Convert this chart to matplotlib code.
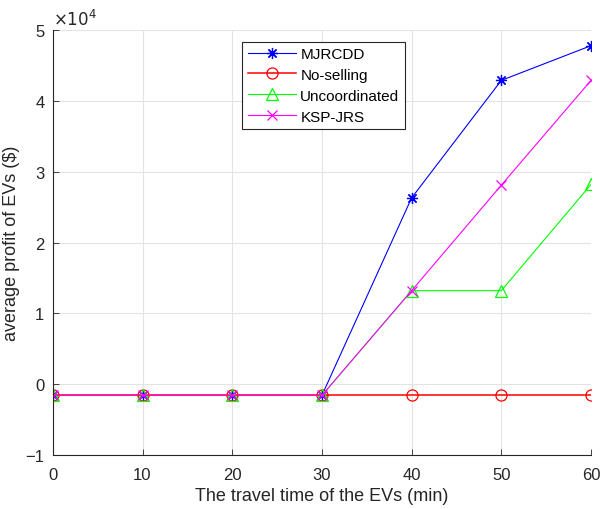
import matplotlib
matplotlib.use("Agg")
import matplotlib.pyplot as plt

plt.rcParams["font.family"] = ["Liberation Sans", "DejaVu Sans"]

travel_time = [0, 10, 20, 30, 40, 50, 60]
mjrcdd = [-0.16, -0.16, -0.16, -0.16, 2.63, 4.29, 4.78]
no_selling = [-0.16, -0.16, -0.16, -0.16, -0.16, -0.16, -0.16]
uncoordinated = [-0.16, -0.16, -0.16, -0.16, 1.32, 1.32, 2.82]
ksp_jrs = [-0.16, -0.16, -0.16, -0.16, 1.32, 2.81, 4.29]

fig = plt.figure(figsize=(6.0, 5.1), dpi=100)
ax = fig.add_axes([0.088, 0.106, 0.897, 0.833])

ax.plot(travel_time, mjrcdd, color="#0000ff", lw=0.8, marker=(8, 2, 0), ms=8, mew=0.9, label="MJRCDD")
ax.plot(travel_time, no_selling, color="#ff0000", lw=1.1, marker="o", ms=8, mfc="none", mew=0.9, label="No-selling")
ax.plot(travel_time, uncoordinated, color="#00ff00", lw=0.8, marker="^", ms=9, mfc="none", mew=0.9, label="Uncoordinated")
ax.plot(travel_time, ksp_jrs, color="#ff00ff", lw=0.8, marker="x", ms=7, mew=0.9, label="KSP-JRS")

ax.set_xlim(0, 60)
ax.set_ylim(-1, 5)
ax.set_xticks(travel_time)
ax.set_yticks([-1, 0, 1, 2, 3, 4, 5])
ax.grid(True, color="#e3e3e3", lw=0.8)
ax.set_axisbelow(True)
for side in ("top", "right"):
    ax.spines[side].set_visible(False)
for side in ("left", "bottom"):
    ax.spines[side].set_color("#262626")
    ax.spines[side].set_linewidth(0.8)
ax.tick_params(direction="in", length=4, width=0.6, colors="#262626", labelsize=12)
ax.tick_params(axis="x", pad=9)
ax.tick_params(axis="y", pad=6)

ax.set_xlabel("The travel time of the EVs (min)", fontsize=13, color="#262626", labelpad=3)
ax.set_ylabel("average profit of EVs ($)", fontsize=13, color="#262626", labelpad=4)
ax.text(0.0, 1.005, r"$\times10^{4}$", transform=ax.transAxes, fontsize=12, color="#262626",
        ha="left", va="bottom", math_fontfamily="custom")

leg = ax.legend(loc="upper left", bbox_to_anchor=(0.352, 0.973), fontsize=11, fancybox=False,
                edgecolor="#262626", framealpha=1.0, borderpad=0.35, labelspacing=0.45,
                handlelength=3.2, handletextpad=0.25, borderaxespad=0)
leg.get_frame().set_linewidth(0.8)

fig.savefig("out.png", dpi=100)
